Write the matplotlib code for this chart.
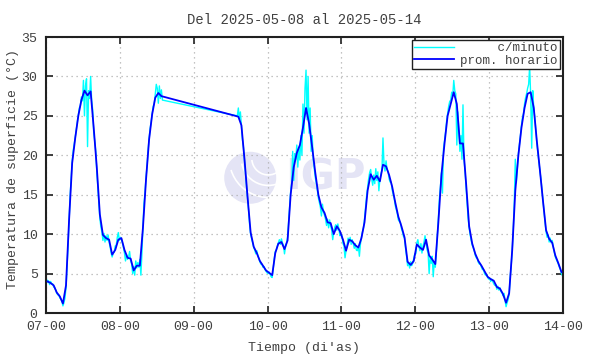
import numpy as np
import pandas as pd
import matplotlib
matplotlib.use("Agg")
import matplotlib.pyplot as plt
import matplotlib.dates as mdates
from matplotlib.patches import Ellipse, Arc

# ---------------- data ----------------
title = "Del 2025-05-08 al 2025-05-14"
start = pd.Timestamp("2025-05-07 00:00")

# hourly means (prom. horario), plotted at hh:30; first hour index of each block
hourly_start = [0, 24, 62, 72, 96, 120, 144]
hourly_d07 = [4.0, 3.8, 3.5, 2.6, 2.1, 1.2, 3.5, 11.8, 19.0, 22.2, 25.0, 27.0,
              28.2, 27.6, 28.1, 23.5, 18.5, 12.5, 9.9, 9.5, 9.3, 7.4, 8.0, 9.3]
hourly_d08 = [9.5, 8.0, 7.0, 6.9, 5.4, 6.0, 6.0, 10.8, 16.9, 22.0, 25.2, 27.3,
              27.9, 27.5]
hourly_d09 = [24.9, 23.8, 19.5, 14.7, 10.2, 8.4, 7.6, 6.6, 6.0, 5.4]
hourly_d10 = [5.1, 4.8, 7.6, 8.8, 9.0, 8.1, 9.2, 15.0, 18.5, 20.3, 21.3, 23.5,
              26.0, 24.0, 21.0, 17.8, 15.0, 13.4, 12.7, 11.5, 11.4, 10.0, 11.0, 10.4]
hourly_d11 = [9.3, 7.9, 9.3, 9.1, 8.6, 8.3, 9.5, 11.5, 15.5, 17.6, 16.9, 17.4,
              16.7, 18.8, 18.6, 17.5, 16.0, 14.0, 12.2, 11.0, 9.6, 6.5, 6.1, 6.6]
hourly_d12 = [8.7, 8.3, 8.0, 9.3, 7.3, 6.8, 6.2, 11.5, 17.5, 21.5, 25.0, 26.5,
              28.0, 26.5, 21.5, 21.5, 16.5, 11.0, 8.8, 7.5, 6.6, 6.0, 5.3, 4.6]
hourly_d13 = [4.3, 4.1, 3.3, 3.1, 2.4, 1.3, 2.5, 8.0, 15.5, 20.0, 23.5, 26.0,
              27.8, 28.0, 26.0, 21.8, 18.1, 14.2, 10.5, 9.4, 8.9, 7.3, 6.3, 5.2]
hourly_blocks = [hourly_d07, hourly_d08, hourly_d09, hourly_d10,
                 hourly_d11, hourly_d12, hourly_d13]

# per-minute readings (c/minuto), three samples per hour (hh:10, hh:30, hh:50)
minute_d07 = [4.3, 3.9, 4.1, 3.6, 4.0, 3.7, 3.7, 3.3, 3.2, 2.9, 2.5, 2.3,
              2.3, 1.9, 1.8, 1.5, 0.9, 1.3, 1.9, 3.2, 5.8, 8.5, 11.6, 14.8,
              16.9, 19.2, 20.6, 21.4, 22.3, 23.3, 24.2, 25.1, 26.0, 26.3, 27.4, 26.9,
              29.5, 25.0, 28.8, 29.7, 21.1, 28.2, 27.2, 30.0, 27.0, 25.8, 22.9, 21.8,
              20.5, 18.0, 16.0, 14.0, 12.0, 10.9, 10.3, 9.2, 10.1, 9.0, 9.8, 9.2,
              9.9, 9.0, 8.4, 7.6, 7.1, 7.6, 7.7, 8.5, 8.6, 9.6, 10.2, 9.2]
minute_d08 = [9.6, 9.3, 8.9, 8.3, 7.6, 6.6, 7.4, 6.8, 7.1, 7.8, 6.6, 6.2,
              5.0, 5.9, 4.8, 6.6, 5.7, 6.4, 5.8, 6.8, 4.8, 7.5, 10.9, 13.9,
              15.2, 17.2, 18.6, 20.6, 22.1, 23.4, 24.2, 25.3, 26.2, 26.5, 27.8, 29.0,
              28.5, 26.6, 28.8, 27.2, 28.3, 27.0]
minute_d09 = [25.0, 26.0, 24.6, 25.5, 23.8, 22.0, 21.0, 19.3, 17.5, 16.0, 14.5, 13.0,
              11.2, 10.0, 9.4, 8.9, 8.3, 8.0, 7.5, 7.9, 7.3, 6.9, 6.5, 6.2,
              6.2, 5.8, 5.9, 5.5, 5.3, 5.1]
minute_d10 = [5.0, 5.2, 4.9, 4.6, 4.5, 5.6, 6.9, 7.8, 8.0, 8.5, 8.9, 9.3,
              8.7, 9.4, 8.9, 8.6, 7.5, 8.4, 8.9, 9.6, 11.5, 13.2, 15.4, 16.5,
              20.5, 16.8, 20.2, 19.5, 21.3, 18.5, 21.0, 19.4, 22.5, 20.0, 26.5, 22.8,
              28.5, 30.8, 24.5, 30.0, 22.8, 26.0, 20.5, 22.5, 19.5, 18.3, 17.2, 16.5,
              15.6, 14.6, 14.0, 13.4, 12.3, 13.8, 12.8, 12.4, 11.9, 11.1, 11.9, 10.8,
              11.8, 11.0, 10.5, 9.3, 10.2, 10.9, 11.2, 10.5, 11.3, 10.7, 9.8, 10.0]
minute_d11 = [9.8, 8.8, 8.5, 7.0, 7.9, 8.6, 9.5, 9.0, 9.6, 8.7, 9.3, 8.8,
              8.2, 8.8, 8.0, 7.9, 8.5, 7.2, 8.7, 9.6, 10.3, 10.8, 11.9, 13.4,
              14.8, 15.9, 17.0, 17.8, 18.2, 17.0, 16.2, 17.5, 16.4, 18.3, 16.8, 17.9,
              15.5, 17.0, 17.6, 18.1, 22.2, 18.9, 18.0, 19.3, 18.2, 17.9, 17.0, 16.6,
              16.6, 15.6, 15.0, 14.5, 13.6, 13.1, 12.6, 11.8, 11.6, 11.5, 10.7, 10.3,
              9.7, 9.5, 8.2, 7.2, 6.0, 6.4, 5.7, 6.5, 6.0, 6.3, 6.9, 7.5]
minute_d12 = [7.5, 8.9, 9.3, 8.5, 7.9, 8.8, 7.6, 8.5, 9.0, 9.8, 8.9, 8.0,
              7.6, 5.0, 7.1, 6.3, 7.2, 4.6, 6.5, 5.8, 7.6, 9.8, 12.0, 14.5,
              16.0, 17.8, 15.2, 20.8, 21.8, 22.9, 24.3, 25.3, 26.2, 26.8, 27.0, 28.0,
              27.5, 29.5, 28.2, 27.8, 21.3, 25.5, 23.0, 20.5, 22.5, 19.5, 26.4, 19.5,
              18.0, 16.0, 14.0, 12.0, 10.8, 9.9, 9.2, 8.6, 8.3, 7.9, 7.3, 7.0,
              6.9, 6.4, 6.2, 6.2, 5.8, 5.5, 5.5, 5.0, 4.8, 4.9, 4.5, 4.3]
minute_d13 = [4.4, 4.0, 4.3, 4.0, 3.7, 3.5, 3.6, 3.0, 3.4, 2.9, 3.2, 2.7,
              2.6, 2.2, 2.5, 1.6, 0.8, 1.3, 1.7, 2.4, 4.5, 6.0, 8.0, 10.5,
              14.0, 19.5, 16.5, 18.3, 20.2, 21.3, 22.5, 23.8, 24.8, 25.3, 26.5, 27.3,
              27.8, 28.5, 29.0, 31.3, 27.5, 20.9, 28.2, 26.0, 24.8, 23.2, 21.5, 20.3,
              19.0, 18.0, 17.0, 15.6, 14.2, 12.8, 11.5, 10.3, 9.6, 9.9, 9.0, 9.5,
              8.9, 9.2, 8.4, 7.7, 7.1, 6.8, 6.5, 6.2, 5.8, 5.5, 5.0, 4.7]
minute_blocks = [minute_d07, minute_d08, minute_d09, minute_d10,
                 minute_d11, minute_d12, minute_d13]

legend_labels = ["     c/minuto", "prom. horario"]
ylabel = "Temperatura de superficie (°C)"
xlabel = "Tiempo (di'as)"

# ---------------- build time axes ----------------
h_t, h_v, m_t, m_v = [], [], [], []
for s, hv, mv in zip(hourly_start, hourly_blocks, minute_blocks):
    for k, v in enumerate(hv):
        h_t.append(start + pd.Timedelta(hours=s + k + 0.5))
        h_v.append(v)
    for k, v in enumerate(mv):
        m_t.append(start + pd.Timedelta(minutes=60 * s + 10 + 20 * k))
        m_v.append(v)

# ---------------- figure ----------------
mono = ["Liberation Mono", "DejaVu Sans Mono"]
txtc = "#404040"
fig = plt.figure(figsize=(5.9, 3.54), dpi=100)
ax = fig.add_axes([46 / 590, 41 / 354, 517 / 590, 276 / 354])

# watermark logo
ax.add_patch(Ellipse((0.395, 0.49), 52 / 517, 52 / 276, transform=ax.transAxes,
                     facecolor="#e4e4f5", edgecolor="none", zorder=0))
for r, th1, th2 in [(0.9, 200, 300), (1.3, 210, 290), (0.55, 190, 320)]:
    ax.add_patch(Arc((0.43, 0.56), r * 50 / 517 * 1.2, r * 50 / 276 * 1.2,
                     theta1=th1, theta2=th2, transform=ax.transAxes,
                     color="white", lw=1.2, zorder=0.5))
ax.text(0.54, 0.49, "IGP", transform=ax.transAxes, fontsize=30,
        fontweight="bold", color="#e4e4f5", ha="center", va="center",
        family="DejaVu Sans", zorder=0)

ax.plot(m_t, m_v, color="#00ffff", lw=1.0, zorder=2, label=legend_labels[0])
ax.plot(h_t, h_v, color="#0000ff", lw=1.3, zorder=3, label=legend_labels[1])

ax.set_xlim(start, start + pd.Timedelta(days=7))
ax.set_ylim(0, 35)
ax.set_yticks(np.arange(0, 36, 5))
ax.xaxis.set_major_locator(mdates.DayLocator())
ax.xaxis.set_major_formatter(mdates.DateFormatter("%d-%H"))

ax.grid(True, color="#b0b0b0", linestyle=(0, (1, 3)), lw=0.9)
ax.tick_params(direction="in", top=True, right=True, length=5, width=1.2,
               colors="#202020", labelcolor=txtc, labelsize=9.5, pad=6)
for lab in ax.get_xticklabels() + ax.get_yticklabels():
    lab.set_family(mono)
for sp in ax.spines.values():
    sp.set_linewidth(1.5)
    sp.set_color("#202020")

ax.set_title(title, family=mono, fontsize=10, color=txtc, pad=9)
ax.set_ylabel(ylabel, family=mono, fontsize=9.5, color=txtc)
ax.yaxis.set_label_coords(-0.052, 0.52)
ax.set_xlabel(xlabel, family=mono, fontsize=9.5, color=txtc, labelpad=6)

leg = ax.legend(loc="upper right", prop={"family": mono, "size": 9},
                frameon=True, fancybox=False, edgecolor="#202020",
                framealpha=1, handlelength=3.2, handletextpad=0.5,
                borderaxespad=0.25, borderpad=0.15, labelspacing=0.05)
leg.get_frame().set_linewidth(1.0)
for t in leg.get_texts():
    t.set_color(txtc)

fig.savefig("out.png", dpi=100)
